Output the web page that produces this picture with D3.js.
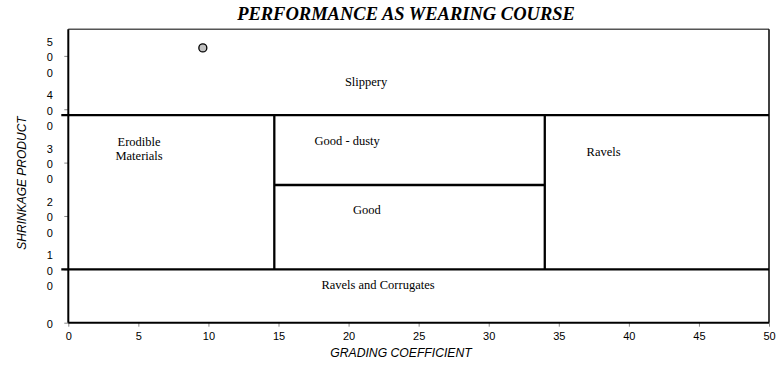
<!DOCTYPE html>
<html><head><meta charset="utf-8">
<script src="https://cdn.jsdelivr.net/npm/d3@7"></script>
<style>body{margin:0;background:#fff}svg{display:block}</style>
</head><body>
<svg id="c" width="777" height="365"></svg>
<script>
const xTicks = [0,5,10,15,20,25,30,35,40,45,50];
const yTicks = [0,100,200,300,400,500];
const points = [{x:9.6, y:515}];
const hLines = [{y:389, x0:-0.5, x1:50},{y:100, x0:-0.5, x1:50},{y:258, x0:14.7, x1:34}];
const vLines = [{x:14.7, y0:100, y1:389},{x:34, y0:100, y1:389}];
const regionLabels = [
  {lines:["Slippery"], x:21.25, y:452},
  {lines:["Erodible","Materials"], x:5.05, y:340},
  {lines:["Good - dusty"], x:19.9, y:342},
  {lines:["Good"], x:21.3, y:211},
  {lines:["Ravels"], x:38.2, y:321},
  {lines:["Ravels and Corrugates"], x:22.1, y:72}
];
const title = "PERFORMANCE AS WEARING COURSE";
const xTitle = "GRADING COEFFICIENT";
const yTitle = "SHRINKAGE PRODUCT";

const svg = d3.select("#c");
const x = d3.scaleLinear([0,50],[68.3,769]);
const y = d3.scaleLinear([0,550],[322.7,29.2]);

// ticks
const xAx = svg.append("g").attr("transform",`translate(0,${y(0)})`)
  .call(d3.axisBottom(x).tickValues(xTicks).tickSize(4).tickSizeOuter(0).tickPadding(6));
xAx.select(".domain").remove();
xAx.selectAll("line").attr("stroke","#888");
xAx.selectAll("text").attr("font-family","Liberation Sans, Arial, sans-serif").attr("font-size","11px").attr("fill","#000");

const yAx = svg.append("g").attr("transform",`translate(${x(0)},0)`)
  .call(d3.axisLeft(y).tickValues(yTicks).tickSize(4).tickSizeOuter(0).tickFormat(""));
yAx.select(".domain").remove();
yAx.selectAll("line").attr("stroke","#888");
yAx.selectAll(".tick").each(function(d){
  const s = String(d).split("");
  const n = s.length;
  const t = d3.select(this).append("text")
    .attr("x",-18.5).attr("text-anchor","middle")
    .attr("font-family","Liberation Sans, Arial, sans-serif").attr("font-size","11px").attr("fill","#000");
  s.forEach((ch,i)=>{
    t.append("tspan").attr("x",-18.5).attr("y",(i-(n-1)/2)*15.3+1).attr("dy","0.35em").text(ch);
  });
});

// frame
svg.append("line").attr("x1",x(0)).attr("x2",x(50)).attr("y1",y(550)).attr("y2",y(550)).attr("stroke","#555").attr("stroke-width",1.5);
svg.append("line").attr("x1",x(50)).attr("x2",x(50)).attr("y1",y(550)).attr("y2",y(0)).attr("stroke","#000").attr("stroke-width",1.5);
svg.append("line").attr("x1",x(0)).attr("x2",x(0)).attr("y1",y(550)).attr("y2",y(0)).attr("stroke","#000").attr("stroke-width",2);
svg.append("line").attr("x1",x(0)).attr("x2",x(50)).attr("y1",y(0)).attr("y2",y(0)).attr("stroke","#000").attr("stroke-width",2);

// region lines
svg.selectAll(".hl").data(hLines).join("line")
  .attr("x1",d=>x(d.x0)).attr("x2",d=>x(d.x1)).attr("y1",d=>y(d.y)).attr("y2",d=>y(d.y))
  .attr("stroke","#000").attr("stroke-width",2.3);
svg.selectAll(".vl").data(vLines).join("line")
  .attr("x1",d=>x(d.x)).attr("x2",d=>x(d.x)).attr("y1",d=>y(d.y0)).attr("y2",d=>y(d.y1))
  .attr("stroke","#000").attr("stroke-width",2.3);

// region labels
regionLabels.forEach(r=>{
  const t = svg.append("text").attr("text-anchor","middle")
    .attr("font-family","Liberation Serif, Times New Roman, serif").attr("font-size","12.5px").attr("fill","#000");
  r.lines.forEach((l,i)=>{
    t.append("tspan").attr("x",x(r.x)).attr("y",y(r.y)+i*14).attr("dy","0.35em").text(l);
  });
});

// points
svg.selectAll(".pt").data(points).join("circle")
  .attr("cx",d=>x(d.x)).attr("cy",d=>y(d.y)).attr("r",4)
  .attr("fill","#c0c0c0").attr("stroke","#000").attr("stroke-width",1.3);

// titles
svg.append("text").attr("x",406).attr("y",20).attr("text-anchor","middle")
  .attr("font-family","Liberation Serif, Times New Roman, serif").attr("font-size","18.5px")
  .attr("font-weight","bold").attr("font-style","italic").text(title);
svg.append("text").attr("x",401).attr("y",357).attr("text-anchor","middle")
  .attr("font-family","Liberation Sans, Arial, sans-serif").attr("font-size","12.2px")
  .attr("font-style","italic").text(xTitle);
svg.append("text").attr("transform","translate(26,183) rotate(-90)").attr("text-anchor","middle")
  .attr("font-family","Liberation Sans, Arial, sans-serif").attr("font-size","12px")
  .attr("font-style","italic").text(yTitle);
</script>
</body></html>
